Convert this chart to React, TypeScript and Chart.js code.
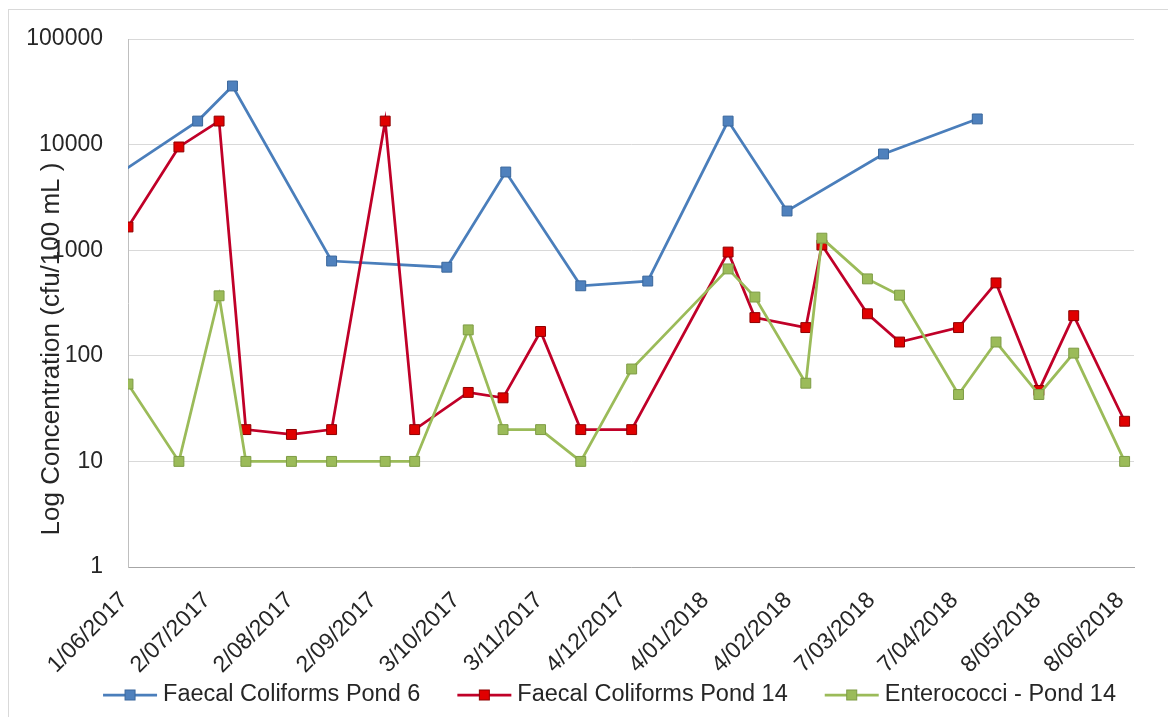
import React, { useEffect, useRef } from "react";
import { Chart, registerables } from "chart.js";

Chart.register(...registerables);

// Sampling dates and concentrations (cfu/100 mL)
const pond6Dates = [
  "2017-05-25", "2017-06-27", "2017-07-10", "2017-08-16", "2017-09-28", "2017-10-20",
  "2017-11-17", "2017-12-12", "2018-01-11", "2018-02-02", "2018-03-10", "2018-04-14",
];
const pond6Faecal = [4600, 16700, 35900, 790, 690, 5500, 460, 510, 16700, 2350, 8150, 17500];

const pond14Dates = [
  "2017-06-01", "2017-06-20", "2017-07-05", "2017-07-15", "2017-08-01", "2017-08-16",
  "2017-09-05", "2017-09-16", "2017-10-06", "2017-10-19", "2017-11-02", "2017-11-17",
  "2017-12-06", "2018-01-11", "2018-01-21", "2018-02-09", "2018-02-15", "2018-03-04",
  "2018-03-16", "2018-04-07", "2018-04-21", "2018-05-07", "2018-05-20", "2018-06-08",
];
const pond14Faecal = [
  1660, 9500, 16700, 20, 18, 20, 16700, 20, 45, 40, 170, 20,
  20, 960, 230, 185, 1120, 250, 135, 185, 490, 47, 240, 24,
];
const pond14Entero = [
  54, 10, 370, 10, 10, 10, 10, 10, 176, 20, 20, 10,
  75, 665, 360, 55, 1300, 535, 375, 43, 135, 43, 106, 10,
];

// Axis ticks
const axisStart = "2017-06-01";
const tickDates = [
  "2017-06-01", "2017-07-02", "2017-08-02", "2017-09-02", "2017-10-03", "2017-11-03",
  "2017-12-04", "2018-01-04", "2018-02-04", "2018-03-07", "2018-04-07", "2018-05-08", "2018-06-08",
];
const tickLabels = [
  "1/06/2017", "2/07/2017", "2/08/2017", "2/09/2017", "3/10/2017", "3/11/2017",
  "4/12/2017", "4/01/2018", "4/02/2018", "7/03/2018", "7/04/2018", "8/05/2018", "8/06/2018",
];
const yTicks = [1, 10, 100, 1000, 10000, 100000];

const seriesNames = ["Faecal Coliforms Pond 6", "Faecal Coliforms Pond 14", "Enterococci - Pond 14"];
const yTitle = "Log Concentration (cfu/100 mL )";

const FONT = '"Liberation Sans", Arial, sans-serif';

function dayOf(iso: string): number {
  const [y, m, d] = iso.split("-").map(Number);
  const [y0, m0, d0] = axisStart.split("-").map(Number);
  return (Date.UTC(y, m - 1, d) - Date.UTC(y0, m0 - 1, d0)) / 86400000;
}

const styles = [
  { line: "#4A7EBB", fill: "#4F81BD", edge: "#3A679C" },
  { line: "#C00028", fill: "#E00000", edge: "#8E0000" },
  { line: "#9BBB59", fill: "#9BBB59", edge: "#7E9C45" },
];

const decor = {
  id: "decor",
  beforeDraw(chart: any) {
    const { ctx, width, height } = chart;
    ctx.save();
    ctx.fillStyle = "#ffffff";
    ctx.fillRect(0, 0, width, height);
    ctx.strokeStyle = "#d9d9d9";
    ctx.lineWidth = 1;
    ctx.beginPath();
    ctx.moveTo(0, 1.5);
    ctx.lineTo(width, 1.5);
    ctx.moveTo(0.5, 1);
    ctx.lineTo(0.5, height);
    ctx.stroke();
    ctx.restore();
  },
  afterDraw(chart: any) {
    const { ctx } = chart;
    ctx.save();
    // vertical axis title
    ctx.font = `26px ${FONT}`;
    ctx.fillStyle = "#262626";
    ctx.textAlign = "center";
    ctx.textBaseline = "middle";
    ctx.translate(44, 341);
    ctx.rotate(-Math.PI / 2);
    ctx.fillText(yTitle, 0, 0);
    ctx.restore();

    // legend: line with square marker, then the series name
    ctx.save();
    ctx.font = `23.5px ${FONT}`;
    const lineLen = 54;
    const gapText = 6;
    const gapItem = 37;
    const widths = seriesNames.map((n) => lineLen + gapText + ctx.measureText(n).width);
    const total = widths.reduce((a, b) => a + b, 0) + gapItem * (seriesNames.length - 1);
    let x = 601.5 - total / 2;
    const y = 687;
    seriesNames.forEach((name, i) => {
      const s = styles[i];
      ctx.strokeStyle = s.line;
      ctx.lineWidth = 2.75;
      ctx.beginPath();
      ctx.moveTo(x, y);
      ctx.lineTo(x + lineLen, y);
      ctx.stroke();
      ctx.fillStyle = s.fill;
      ctx.strokeStyle = s.edge;
      ctx.lineWidth = 1;
      ctx.fillRect(x + lineLen / 2 - 5, y - 5, 10, 10);
      ctx.strokeRect(x + lineLen / 2 - 5, y - 5, 10, 10);
      ctx.fillStyle = "#262626";
      ctx.textAlign = "left";
      ctx.textBaseline = "middle";
      ctx.fillText(name, x + lineLen + gapText, y);
      x += widths[i] + gapItem;
    });
    ctx.restore();
  },
};

function makeDataset(i: number, dates: string[], values: number[], order: number) {
  const s = styles[i];
  return {
    label: seriesNames[i],
    data: dates.map((d, k) => ({ x: dayOf(d), y: values[k] })),
    borderColor: s.line,
    backgroundColor: s.fill,
    pointBackgroundColor: s.fill,
    pointBorderColor: s.edge,
    pointBorderWidth: 1,
    pointStyle: "rect",
    pointRadius: 7,
    pointHoverRadius: 7,
    borderWidth: 2.75,
    tension: 0,
    fill: false,
    order,
  };
}

export default function App() {
  const canvasRef = useRef<HTMLCanvasElement | null>(null);

  useEffect(() => {
    if (!canvasRef.current) return;
    const chart = new Chart(canvasRef.current, {
      type: "line",
      data: {
        datasets: [
          makeDataset(0, pond6Dates, pond6Faecal, 3),
          makeDataset(1, pond14Dates, pond14Faecal, 2),
          makeDataset(2, pond14Dates, pond14Entero, 1),
        ],
      },
      options: {
        animation: false,
        responsive: true,
        maintainAspectRatio: false,
        layout: { padding: { top: 31, right: 34, left: 0, bottom: 0 } },
        plugins: {
          legend: { display: false },
          tooltip: { enabled: false },
        },
        scales: {
          x: {
            type: "linear",
            min: 0,
            max: 375.5,
            afterBuildTicks: (axis: any) => {
              axis.ticks = tickDates.map((d) => ({ value: dayOf(d) }));
            },
            afterFit: (axis: any) => {
              axis.height = 150;
            },
            ticks: {
              autoSkip: false,
              minRotation: 45,
              maxRotation: 45,
              padding: 20,
              labelOffset: -4,
              color: "#262626",
              font: { family: FONT, size: 23 },
              callback: (_v: any, idx: number) => tickLabels[idx],
            },
            grid: { display: false, drawTicks: false },
            border: { display: true, color: "#a6a6a6", width: 1 },
          },
          y: {
            type: "logarithmic",
            min: 1,
            max: 100000,
            afterBuildTicks: (axis: any) => {
              axis.ticks = yTicks.map((v) => ({ value: v }));
            },
            afterFit: (axis: any) => {
              axis.width = 120;
              axis.paddingTop = 0;
              axis.paddingBottom = 0;
            },
            ticks: {
              padding: 25,
              color: "#262626",
              font: { family: FONT, size: 23 },
              callback: (v: any) => String(Number(v)),
            },
            grid: { color: "#d9d9d9", lineWidth: 1, drawTicks: false },
            border: { display: true, color: "#bfbfbf", width: 1 },
          },
        },
      },
      plugins: [decor],
    } as any);
    return () => chart.destroy();
  }, []);

  return (
    <div style={{ position: "relative", width: 1160, height: 709 }}>
      <canvas ref={canvasRef} />
    </div>
  );
}
